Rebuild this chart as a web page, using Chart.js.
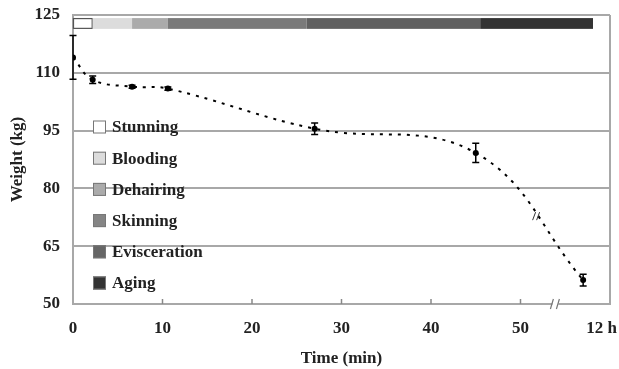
<!DOCTYPE html>
<html><head><meta charset="utf-8">
<script src="https://cdn.jsdelivr.net/npm/chart.js@4/dist/chart.umd.min.js"></script>
<style>html,body{margin:0;padding:0;background:#fff}#wrap{width:619px;height:369px}</style>
</head><body><div id="wrap"><canvas id="c" width="619" height="369"></canvas></div>
<script>
const stageNames=['Stunning','Blooding','Dehairing','Skinning','Evisceration','Aging'];
const stageStart=[0,2.2,6.6,10.6,26.1,45.5];
const stageEnd=[2.2,6.6,10.6,26.1,45.5,58.1];
const stageColors=['#ffffff','#dcdcdc','#ababab','#7a7a7a','#606060','#333333'];
const legendColors=['#ffffff','#dcdcdc','#ababab','#858585','#666666','#333333'];
const timeMin=[0,2.2,6.6,10.6,27,45,57];
const weightKg=[114,108.2,106.4,105.9,95.5,89.2,56.2];
const weightErr=[5.7,1,0.4,0.4,1.5,2.5,1.5];
const yTicks=[50,65,80,95,110,125];
const xTicks=[0,10,20,30,40,50,60];
const xTickLabels=['0','10','20','30','40','50','12 h\u2003'];
const FONT='"Liberation Serif","Times New Roman",serif';
const GRID='#a8a8a8';

const extras={
  id:'extras',
  beforeDatasetsDraw(chart){
    const {ctx,chartArea:a,scales:{x,y}}=chart;
    ctx.save();
    ctx.strokeStyle=GRID;ctx.lineWidth=2;
    ctx.beginPath();ctx.moveTo(a.right,a.top);ctx.lineTo(a.right,a.bottom);ctx.stroke();
    ctx.lineWidth=1.5;ctx.strokeStyle='#888';
    xTicks.slice(1,-1).forEach(v=>{const px=x.getPixelForValue(v);ctx.beginPath();ctx.moveTo(px,a.bottom);ctx.lineTo(px,a.bottom-5);ctx.stroke();});
    const bx=x.getPixelForValue(53.9);
    ctx.fillStyle='#fff';ctx.fillRect(bx-3,a.bottom-4,6,8);
    ctx.strokeStyle='#777';ctx.lineWidth=1.2;
    [-3,3].forEach(d=>{ctx.beginPath();ctx.moveTo(bx+d-2,a.bottom+5);ctx.lineTo(bx+d+1,a.bottom-5);ctx.stroke();});
    const t=y.getPixelForValue(124.2),b=y.getPixelForValue(121.4);
    stageNames.forEach((n,i)=>{
      const l=x.getPixelForValue(stageStart[i]),r=x.getPixelForValue(stageEnd[i]);
      ctx.fillStyle=stageColors[i];ctx.fillRect(l,t,r-l,b-t);
      if(i===0){ctx.strokeStyle='#555';ctx.lineWidth=1.2;ctx.strokeRect(l+0.5,t+0.5,r-l-1,b-t-1);}
    });
    ctx.font='bold 17px '+FONT;ctx.textBaseline='middle';ctx.textAlign='left';
    stageNames.forEach((n,i)=>{
      const cy=a.top+112+i*31.2;
      ctx.fillStyle=legendColors[i];ctx.fillRect(a.left+20,cy-6.5,13,13);
      ctx.strokeStyle='#777';ctx.lineWidth=1;ctx.strokeRect(a.left+20.5,cy-6,12,12);
      ctx.fillStyle='#222';ctx.fillText(n,a.left+39,cy+1);
    });
    ctx.restore();
  },
  afterDatasetsDraw(chart){
    const {ctx,scales:{x,y}}=chart;
    ctx.save();
    ctx.strokeStyle='#000';ctx.lineWidth=1.5;
    timeMin.forEach((t,i)=>{
      const px=x.getPixelForValue(t),hi=y.getPixelForValue(weightKg[i]+weightErr[i]),lo=y.getPixelForValue(weightKg[i]-weightErr[i]);
      ctx.beginPath();ctx.moveTo(px,hi);ctx.lineTo(px,lo);
      ctx.moveTo(px-3.5,hi);ctx.lineTo(px+3.5,hi);ctx.moveTo(px-3.5,lo);ctx.lineTo(px+3.5,lo);ctx.stroke();
    });
    const mx=x.getPixelForValue(51.8),my=y.getPixelForValue(72.8);
    ctx.strokeStyle='#333';ctx.lineWidth=1;
    [-2,2].forEach(d=>{ctx.beginPath();ctx.moveTo(mx+d-2,my+4);ctx.lineTo(mx+d+1,my-4);ctx.stroke();});
    ctx.restore();
  }
};

new Chart(document.getElementById('c'),{
  type:'line',
  data:{datasets:[{
    data:timeMin.map((t,i)=>({x:t,y:weightKg[i]})),
    borderColor:'#000',borderWidth:2,borderDash:[3,6],tension:0.4,
    pointRadius:3,pointBackgroundColor:'#000',pointBorderColor:'#000',pointBorderWidth:0
  }]},
  options:{
    responsive:false,animation:false,
    layout:{padding:{top:15,right:9,bottom:0,left:0}},
    plugins:{legend:{display:false},tooltip:{enabled:false}},
    scales:{
      x:{type:'linear',min:0,max:60,
        afterBuildTicks(s){s.ticks=xTicks.map(v=>({value:v}));},
        afterFit(s){s.height=65;s.paddingLeft=0;s.paddingRight=0;},
        grid:{display:false,drawTicks:false},
        border:{color:GRID,width:2},
        ticks:{padding:14,maxRotation:0,autoSkip:false,color:'#222',font:{family:FONT,size:17,weight:'bold'},
          callback:(v)=>{const i=xTicks.indexOf(v);return i>=0?xTickLabels[i]:'';}},
        title:{display:true,text:'Time (min)',color:'#222',font:{family:FONT,size:17,weight:'bold'},padding:{top:4,bottom:0}}
      },
      y:{min:50,max:125,
        afterBuildTicks(s){s.ticks=yTicks.map(v=>({value:v}));},
        afterFit(s){s.width=73;s.paddingTop=0;s.paddingBottom=0;},
        grid:{color:GRID,lineWidth:2,drawTicks:false},
        border:{color:GRID,width:2},
        ticks:{padding:13,color:'#222',font:{family:FONT,size:17,weight:'bold'}},
        title:{display:true,text:'Weight (kg)',color:'#222',font:{family:FONT,size:17,weight:'bold'},padding:{top:7,bottom:0}}
      }
    }
  },
  plugins:[extras]
});
</script></body></html>
